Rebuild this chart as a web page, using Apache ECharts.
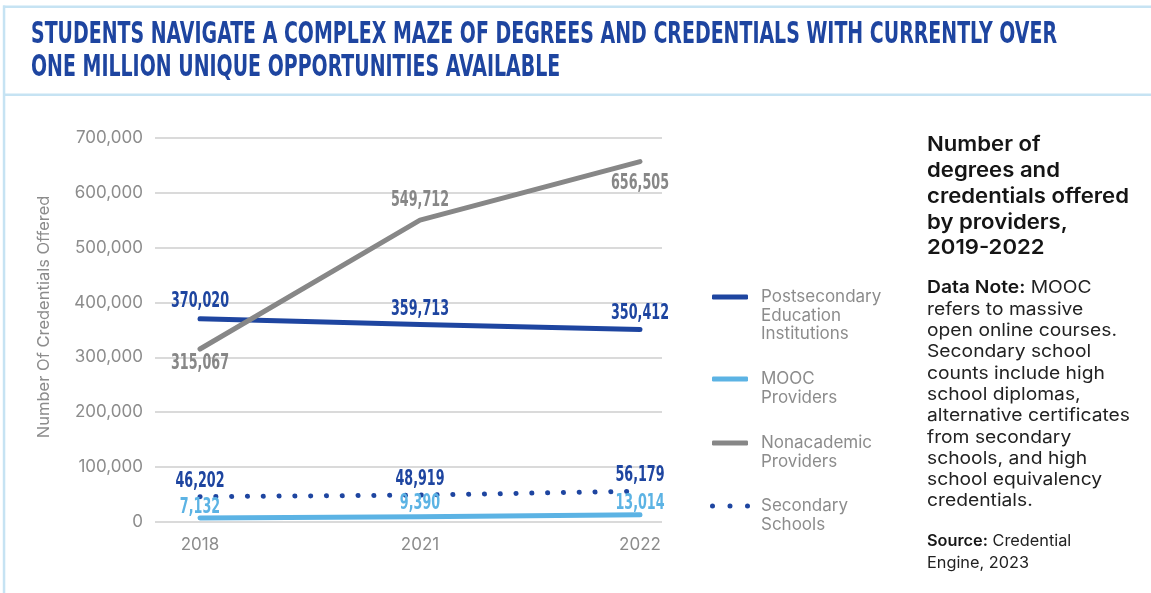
<!DOCTYPE html>
<html>
<head>
<meta charset="utf-8">
<title>Degrees and credentials offered by providers</title>
<script src="https://cdn.jsdelivr.net/npm/echarts@6/dist/echarts.min.js"></script>
<style>
  html, body { margin: 0; padding: 0; background: #ffffff; }
  #chart { width: 1151px; height: 593px; }
</style>
</head>
<body>
<div id="chart"></div>
<script>
// ---- data ----
const years = ['2018', '2021', '2022'];
const postsecondary = [370020, 359713, 350412];
const mooc = [7132, 9390, 13014];
const nonacademic = [315067, 549712, 656505];
const secondary = [46202, 48919, 56179];

const seriesNames = [
  'Postsecondary Education Institutions',
  'MOOC Providers',
  'Nonacademic Providers',
  'Secondary Schools'
];
const legendLines = [
  ['Postsecondary', 'Education', 'Institutions'],
  ['MOOC', 'Providers'],
  ['Nonacademic', 'Providers'],
  ['Secondary', 'Schools']
];

const yMin = 0, yMax = 700000, yStep = 100000;

const titleLines = [
  'STUDENTS NAVIGATE A COMPLEX MAZE OF DEGREES AND CREDENTIALS WITH CURRENTLY OVER',
  'ONE MILLION UNIQUE OPPORTUNITIES AVAILABLE'
];
const panelHeading = 'Number of\ndegrees and\ncredentials offered\nby providers,\n2019-2022';
const noteBody = ' MOOC\nrefers to massive\nopen online courses.\nSecondary school\ncounts include high\nschool diplomas,\nalternative certificates\nfrom secondary\nschools, and high\nschool equivalency\ncredentials.';
const sourceBody = ' Credential\nEngine, 2023';

// ---- styling ----
const BLUE = '#1E45A0';
const LIGHT_BLUE = '#5CB3E4';
const GREY = '#878787';
const FRAME = '#C6E3F3';
const AXIS_TEXT = '#8C8C8C';
const BODY_FONT = 'Inter, "Open Sans", "DejaVu Sans", sans-serif';
const CONDENSED_FONT = '"DejaVu Sans Condensed", "Liberation Sans Narrow", sans-serif';

// vertical offset (px) of each value label from its point, negative = above
const labelOffset = {
  post: [-17, -14.5, -15.5],
  mooc: [-10.5, -13, -11.5],
  nonac: [15, -20, 22.5],
  sec: [-14.6, -15, -15]
};

function fmt(v) { return v.toLocaleString('en-US'); }

// text widths, used to narrow or stretch text blocks to their column width
function measure(text, font) {
  const c = document.createElement('canvas').getContext('2d');
  c.font = font;
  return c.measureText(text).width;
}
const TITLE_SIZE = 30;
const titleScale = 1026 / measure(titleLines[0], 'bold ' + TITLE_SIZE + 'px ' + CONDENSED_FONT);
const LABEL_SIZE = 20.5;
const labelScale = 58 / measure('370,020', 'bold ' + LABEL_SIZE + 'px ' + CONDENSED_FONT);
const HEAD_SIZE = 20.5;
const headScale = 202 / measure('credentials offered', '600 ' + HEAD_SIZE + 'px ' + BODY_FONT);
const NOTE_SIZE = 17.5;
const noteScale = 203 / measure('alternative certificates', NOTE_SIZE + 'px ' + BODY_FONT);
const SRC_SIZE = 15.5;
const srcScale = 102 / measure('Engine, 2023', SRC_SIZE + 'px ' + BODY_FONT);

const chart = echarts.init(document.getElementById('chart'), null, { renderer: 'canvas' });

const lineBase = {
  type: 'line',
  xAxisIndex: 1,
  yAxisIndex: 1,
  symbol: 'none',
  smooth: false,
  silent: true,
  animation: false
};

// value labels in a narrow bold face, placed at each point through the axes
function labelSeries(values, offsets, color) {
  return {
    type: 'custom',
    xAxisIndex: 1,
    yAxisIndex: 1,
    silent: true,
    animation: false,
    z: 5,
    data: values.map(function (v, i) { return [i, v]; }),
    renderItem: function (params, api) {
      const i = api.value(0);
      const v = api.value(1);
      const pt = api.coord([i, v]);
      return {
        type: 'text',
        x: pt[0],
        y: pt[1] + offsets[params.dataIndex],
        scaleX: labelScale,
        originX: 0,
        originY: 0,
        style: {
          text: fmt(v),
          fill: color,
          fontFamily: CONDENSED_FONT,
          fontWeight: 'bold',
          fontSize: LABEL_SIZE,
          align: 'center',
          verticalAlign: 'middle'
        }
      };
    }
  };
}

// legend entries: the symbol sits beside the first text line, so blank lines
// are placed above the text to keep that line at the vertical middle
function legendFor(idx, left, top, icon, width, gap) {
  const lh = 18.5;
  const lines = legendLines[idx];
  const pad = new Array(lines.length - 1).fill('').join('\n');
  const text = (lines.length > 1 ? pad + '\n' : '') + lines.join('\n');
  return {
    data: [{ name: seriesNames[idx], icon: icon }],
    left: left,
    top: top,
    padding: 0,
    itemWidth: width,
    itemHeight: 5,
    selectedMode: false,
    formatter: function () { return text; },
    textStyle: {
      fontFamily: BODY_FONT,
      fontSize: 17,
      lineHeight: lh,
      color: AXIS_TEXT,
      padding: [0, 0, 0, gap]
    }
  };
}

const dotsIcon = 'path://M0,2.5a2.5,2.5 0 1,0 5,0a2.5,2.5 0 1,0 -5,0Z' +
  'M17.5,2.5a2.5,2.5 0 1,0 5,0a2.5,2.5 0 1,0 -5,0Z' +
  'M35,2.5a2.5,2.5 0 1,0 5,0a2.5,2.5 0 1,0 -5,0Z';

const option = {
  backgroundColor: '#ffffff',
  animation: false,
  grid: [
    { left: 155, right: 489, top: 137.7, bottom: 71 },
    { left: 200, right: 511, top: 137.7, bottom: 71 }
  ],
  xAxis: [
    { gridIndex: 0, type: 'value', min: 0, max: 1, show: false },
    {
      gridIndex: 1,
      type: 'category',
      data: years,
      boundaryGap: false,
      axisLine: { show: false },
      axisTick: { show: false },
      splitLine: { show: false },
      axisLabel: {
        color: AXIS_TEXT,
        fontFamily: BODY_FONT,
        fontSize: 17,
        margin: 14
      }
    }
  ],
  yAxis: [
    {
      gridIndex: 0,
      type: 'value',
      min: yMin,
      max: yMax,
      interval: yStep,
      axisLine: { show: false },
      axisTick: { show: false },
      axisLabel: {
        color: AXIS_TEXT,
        fontFamily: BODY_FONT,
        fontSize: 17,
        margin: 12,
        formatter: function (v) { return fmt(v); }
      },
      splitLine: { lineStyle: { color: '#DADADA', width: 2 } },
      name: 'Number Of Credentials Offered',
      nameLocation: 'middle',
      nameRotate: 90,
      nameGap: 102,
      nameTextStyle: {
        color: AXIS_TEXT,
        fontFamily: BODY_FONT,
        fontSize: 16.5,
        padding: [0, 0, 0, 26]
      }
    },
    { gridIndex: 1, type: 'value', min: yMin, max: yMax, interval: yStep, show: false }
  ],
  legend: [
    legendFor(0, 712, 250.75, 'roundRect', 36, 8),
    legendFor(1, 712, 351.25, 'roundRect', 36, 8),
    legendFor(2, 712, 415.25, 'roundRect', 36, 8),
    legendFor(3, 710, 478.25, dotsIcon, 40, 6)
  ],
  series: [
    Object.assign({}, lineBase, {
      name: seriesNames[0],
      color: BLUE,
      lineStyle: { color: BLUE, width: 5, cap: 'round', join: 'round' },
      data: postsecondary
    }),
    Object.assign({}, lineBase, {
      name: seriesNames[1],
      color: LIGHT_BLUE,
      lineStyle: { color: LIGHT_BLUE, width: 5, cap: 'round', join: 'round' },
      data: mooc
    }),
    Object.assign({}, lineBase, {
      name: seriesNames[2],
      color: GREY,
      lineStyle: { color: GREY, width: 5, cap: 'round', join: 'round' },
      data: nonacademic
    }),
    Object.assign({}, lineBase, {
      name: seriesNames[3],
      color: BLUE,
      lineStyle: { color: BLUE, width: 5, cap: 'round', type: [0.1, 15.7] },
      data: secondary
    }),
    labelSeries(postsecondary, labelOffset.post, BLUE),
    labelSeries(mooc, labelOffset.mooc, LIGHT_BLUE),
    labelSeries(nonacademic, labelOffset.nonac, GREY),
    labelSeries(secondary, labelOffset.sec, BLUE)
  ],
  graphic: [
    // frame around the panel
    { type: 'rect', silent: true, shape: { x: 3, y: 5.5, width: 1148, height: 2.5 }, style: { fill: FRAME } },
    { type: 'rect', silent: true, shape: { x: 3, y: 93.5, width: 1148, height: 2.5 }, style: { fill: FRAME } },
    { type: 'rect', silent: true, shape: { x: 2.8, y: 5.5, width: 2.5, height: 588 }, style: { fill: FRAME } },
    // headline
    {
      type: 'text', silent: true, x: 31, y: 35.5, scaleX: titleScale, scaleY: 1, originX: 0, originY: 0,
      style: {
        text: titleLines[0], fill: BLUE, fontSize: TITLE_SIZE, fontWeight: 'bold',
        fontFamily: CONDENSED_FONT, align: 'left', verticalAlign: 'middle'
      }
    },
    {
      type: 'text', silent: true, x: 31, y: 68, scaleX: titleScale, scaleY: 1, originX: 0, originY: 0,
      style: {
        text: titleLines[1], fill: BLUE, fontSize: TITLE_SIZE, fontWeight: 'bold',
        fontFamily: CONDENSED_FONT, align: 'left', verticalAlign: 'middle'
      }
    },
    // side panel
    {
      type: 'text', silent: true, x: 927, y: 132.1, scaleX: headScale, originX: 0, originY: 0,
      style: {
        text: panelHeading, fill: '#151515', fontSize: HEAD_SIZE, fontWeight: 600,
        fontFamily: BODY_FONT, lineHeight: 25.8, align: 'left', verticalAlign: 'top'
      }
    },
    {
      type: 'text', silent: true, x: 927, y: 277.5, scaleX: noteScale, originX: 0, originY: 0,
      style: {
        text: '{b|Data Note:}' + noteBody, fill: '#222222', fontSize: NOTE_SIZE,
        fontFamily: BODY_FONT, lineHeight: 21.3, align: 'left', verticalAlign: 'top',
        rich: { b: { fontWeight: 600, fontSize: NOTE_SIZE, lineHeight: 21.3, fontFamily: BODY_FONT, fill: '#151515' } }
      }
    },
    {
      type: 'text', silent: true, x: 927, y: 530.5, scaleX: srcScale, originX: 0, originY: 0,
      style: {
        text: '{b|Source:}' + sourceBody, fill: '#222222', fontSize: SRC_SIZE,
        fontFamily: BODY_FONT, lineHeight: 22, align: 'left', verticalAlign: 'top',
        rich: { b: { fontWeight: 600, fontSize: SRC_SIZE, lineHeight: 22, fontFamily: BODY_FONT, fill: '#151515' } }
      }
    }
  ]
};

chart.setOption(option);
</script>
</body>
</html>
